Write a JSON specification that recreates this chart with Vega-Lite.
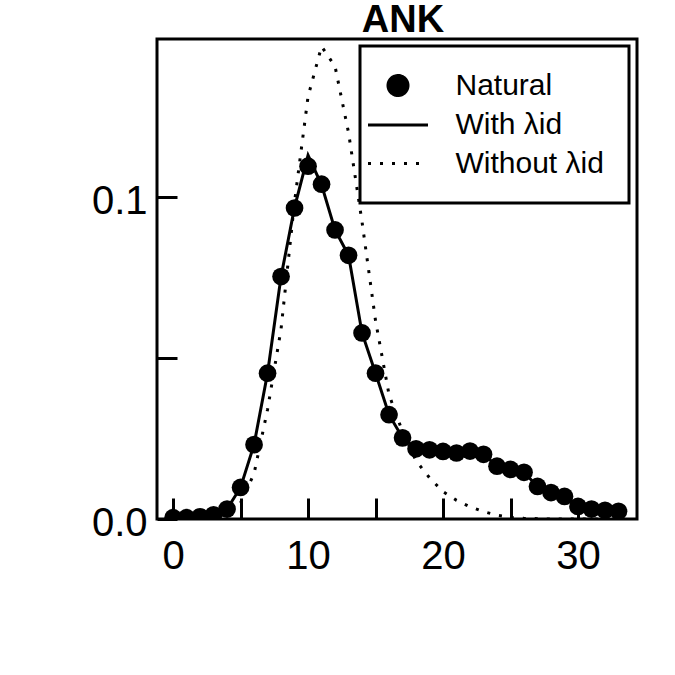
{
  "$schema": "https://vega.github.io/schema/vega-lite/v6.json",
  "width": 480,
  "height": 480,
  "autosize": "none",
  "padding": {"left": 157, "top": 39, "right": 38, "bottom": 156},
  "background": "white",
  "title": {"text": "ANK", "fontSize": 38, "fontWeight": "bold", "font": "Liberation Sans", "color": "black", "anchor": "middle", "baseline": "bottom", "offset": -39, "dx": 6},
  "data": {"values": [
    {"x": 0, "y": 0.0004, "series": "Natural"},
    {"x": 1, "y": 0.0004, "series": "Natural"},
    {"x": 2, "y": 0.0007, "series": "Natural"},
    {"x": 3, "y": 0.0013, "series": "Natural"},
    {"x": 4, "y": 0.0031, "series": "Natural"},
    {"x": 5, "y": 0.0098, "series": "Natural"},
    {"x": 6, "y": 0.0231, "series": "Natural"},
    {"x": 7, "y": 0.0453, "series": "Natural"},
    {"x": 8, "y": 0.0753, "series": "Natural"},
    {"x": 9, "y": 0.0966, "series": "Natural"},
    {"x": 10, "y": 0.1096, "series": "Natural"},
    {"x": 11, "y": 0.1040, "series": "Natural"},
    {"x": 12, "y": 0.0898, "series": "Natural"},
    {"x": 13, "y": 0.0819, "series": "Natural"},
    {"x": 14, "y": 0.0578, "series": "Natural"},
    {"x": 15, "y": 0.0453, "series": "Natural"},
    {"x": 16, "y": 0.0324, "series": "Natural"},
    {"x": 17, "y": 0.0252, "series": "Natural"},
    {"x": 18, "y": 0.0218, "series": "Natural"},
    {"x": 19, "y": 0.0215, "series": "Natural"},
    {"x": 20, "y": 0.0210, "series": "Natural"},
    {"x": 21, "y": 0.0205, "series": "Natural"},
    {"x": 22, "y": 0.0211, "series": "Natural"},
    {"x": 23, "y": 0.0201, "series": "Natural"},
    {"x": 24, "y": 0.0164, "series": "Natural"},
    {"x": 25, "y": 0.0154, "series": "Natural"},
    {"x": 26, "y": 0.0145, "series": "Natural"},
    {"x": 27, "y": 0.0101, "series": "Natural"},
    {"x": 28, "y": 0.0082, "series": "Natural"},
    {"x": 29, "y": 0.0070, "series": "Natural"},
    {"x": 30, "y": 0.0039, "series": "Natural"},
    {"x": 31, "y": 0.0031, "series": "Natural"},
    {"x": 32, "y": 0.0027, "series": "Natural"},
    {"x": 33, "y": 0.0024, "series": "Natural"},
    {"x": 0, "y": 0.0003, "series": "With λid"},
    {"x": 1, "y": 0.0004, "series": "With λid"},
    {"x": 2, "y": 0.0007, "series": "With λid"},
    {"x": 3, "y": 0.0013, "series": "With λid"},
    {"x": 4, "y": 0.0031, "series": "With λid"},
    {"x": 5, "y": 0.0098, "series": "With λid"},
    {"x": 6, "y": 0.0231, "series": "With λid"},
    {"x": 7, "y": 0.0453, "series": "With λid"},
    {"x": 8, "y": 0.0753, "series": "With λid"},
    {"x": 9, "y": 0.0968, "series": "With λid"},
    {"x": 10, "y": 0.1130, "series": "With λid"},
    {"x": 11, "y": 0.1038, "series": "With λid"},
    {"x": 12, "y": 0.0898, "series": "With λid"},
    {"x": 13, "y": 0.0819, "series": "With λid"},
    {"x": 14, "y": 0.0578, "series": "With λid"},
    {"x": 15, "y": 0.0453, "series": "With λid"},
    {"x": 16, "y": 0.0324, "series": "With λid"},
    {"x": 17, "y": 0.0252, "series": "With λid"},
    {"x": 18, "y": 0.0218, "series": "With λid"},
    {"x": 19, "y": 0.0215, "series": "With λid"},
    {"x": 20, "y": 0.0210, "series": "With λid"},
    {"x": 21, "y": 0.0205, "series": "With λid"},
    {"x": 22, "y": 0.0211, "series": "With λid"},
    {"x": 23, "y": 0.0201, "series": "With λid"},
    {"x": 24, "y": 0.0164, "series": "With λid"},
    {"x": 25, "y": 0.0154, "series": "With λid"},
    {"x": 26, "y": 0.0145, "series": "With λid"},
    {"x": 27, "y": 0.0101, "series": "With λid"},
    {"x": 28, "y": 0.0082, "series": "With λid"},
    {"x": 29, "y": 0.0070, "series": "With λid"},
    {"x": 30, "y": 0.0039, "series": "With λid"},
    {"x": 31, "y": 0.0031, "series": "With λid"},
    {"x": 32, "y": 0.0027, "series": "With λid"},
    {"x": 33, "y": 0.0024, "series": "With λid"},
    {"x": 0, "y": 0.0, "series": "Without λid"},
    {"x": 1, "y": 0.0, "series": "Without λid"},
    {"x": 2, "y": 0.0001, "series": "Without λid"},
    {"x": 3, "y": 0.0004, "series": "Without λid"},
    {"x": 4, "y": 0.0016, "series": "Without λid"},
    {"x": 5, "y": 0.0050, "series": "Without λid"},
    {"x": 6, "y": 0.0141, "series": "Without λid"},
    {"x": 7, "y": 0.0340, "series": "Without λid"},
    {"x": 8, "y": 0.0590, "series": "Without λid"},
    {"x": 9, "y": 0.0985, "series": "Without λid"},
    {"x": 10, "y": 0.1312, "series": "Without λid"},
    {"x": 11, "y": 0.1468, "series": "Without λid"},
    {"x": 12, "y": 0.1406, "series": "Without λid"},
    {"x": 13, "y": 0.1200, "series": "Without λid"},
    {"x": 14, "y": 0.0923, "series": "Without λid"},
    {"x": 15, "y": 0.0616, "series": "Without λid"},
    {"x": 16, "y": 0.0386, "series": "Without λid"},
    {"x": 17, "y": 0.0271, "series": "Without λid"},
    {"x": 18, "y": 0.0181, "series": "Without λid"},
    {"x": 19, "y": 0.0128, "series": "Without λid"},
    {"x": 20, "y": 0.0085, "series": "Without λid"},
    {"x": 21, "y": 0.0058, "series": "Without λid"},
    {"x": 22, "y": 0.0038, "series": "Without λid"},
    {"x": 23, "y": 0.0023, "series": "Without λid"},
    {"x": 24, "y": 0.0012, "series": "Without λid"},
    {"x": 25, "y": 0.0005, "series": "Without λid"},
    {"x": 26, "y": 0.0002, "series": "Without λid"},
    {"x": 27, "y": 0.0001, "series": "Without λid"},
    {"x": 28, "y": 0.0, "series": "Without λid"},
    {"x": 29, "y": 0.0, "series": "Without λid"},
    {"x": 30, "y": 0.0, "series": "Without λid"},
    {"x": 31, "y": 0.0, "series": "Without λid"},
    {"x": 32, "y": 0.0, "series": "Without λid"},
    {"x": 33, "y": 0.0, "series": "Without λid"}
  ]},
  "encoding": {
    "x": {
      "field": "x", "type": "quantitative",
      "scale": {"domain": [-1.19, 34.37], "nice": false, "zero": false},
      "axis": {
        "values": [0, 5, 10, 15, 20, 25, 30],
        "title": null, "domain": false, "grid": false,
        "tickSize": -21, "tickWidth": 3, "tickColor": "black",
        "labelFontSize": 40, "labelFont": "Liberation Sans", "labelColor": "black",
        "labelPadding": 38.5, "labelFlush": false, "labelOverlap": false,
        "labelExpr": "datum.value % 10 === 0 ? datum.label : ''",
        "encode": {"ticks": {"update": {"y2": {"signal": "datum.value % 10 === 0 ? -21 : -12"}}}}
      }
    },
    "y": {
      "field": "y", "type": "quantitative",
      "scale": {"domain": [0, 0.1491], "nice": false, "zero": false},
      "axis": {
        "values": [0, 0.05, 0.1],
        "title": null, "domain": false, "grid": false,
        "tickSize": -20, "tickWidth": 3, "tickColor": "black",
        "labelFontSize": 40, "labelFont": "Liberation Sans", "labelColor": "black",
        "labelPadding": 30, "labelOffset": 4, "labelFlush": false, "labelOverlap": false,
        "labelExpr": "abs(datum.value - 0.05) < 0.001 ? '' : format(datum.value, '.1f')",
        "encode": {"ticks": {"update": {"x2": {"signal": "abs(datum.value - 0.05) < 0.001 ? 11 : 20"}}}}
      }
    },
    "color": {
      "field": "series", "type": "nominal",
      "scale": {"domain": ["Natural", "With λid", "Without λid"], "range": ["black", "black", "black"]},
      "legend": {
        "orient": "none", "direction": "vertical", "legendX": 203, "legendY": 7,
        "title": null, "padding": 24.5,
        "strokeColor": "black", "fillColor": "white",
        "symbolSize": 400, "symbolStrokeWidth": 3, "symbolOffset": -1.5,
        "labelOffset": 42.5, "rowPadding": 8.5,
        "labelFontSize": 30, "labelFont": "Liberation Sans", "labelColor": "black", "labelLimit": 400,
        "encode": {
          "legend": {"update": {"strokeWidth": {"value": 3}}},
          "symbols": {"update": {
            "shape": {"signal": "datum.value === 'Natural' ? 'M-1,0A1,1,0,1,1,1,0A1,1,0,1,1,-1,0Z' : 'M-3,0H3'"},
            "fill": {"signal": "datum.value === 'Natural' ? 'black' : 'transparent'"},
            "stroke": {"signal": "datum.value === 'Natural' ? 'transparent' : 'black'"},
            "strokeDash": {"signal": "datum.value === 'Without λid' ? [3, 9] : [1, 0]"},
            "opacity": {"value": 1}
          }}
        }
      }
    }
  },
  "layer": [
    {"transform": [{"filter": "datum.series === 'Natural'"}],
     "mark": {"type": "point", "filled": true, "size": 314, "opacity": 1, "clip": true}},
    {"transform": [{"filter": "datum.series === 'With λid'"}],
     "mark": {"type": "line", "strokeWidth": 3, "clip": true}},
    {"transform": [{"filter": "datum.series === 'Without λid'"}],
     "mark": {"type": "line", "strokeWidth": 3, "strokeDash": [3, 9], "clip": true}}
  ],
  "config": {
    "view": {"stroke": "black", "strokeWidth": 3},
    "font": "Liberation Sans"
  }
}
